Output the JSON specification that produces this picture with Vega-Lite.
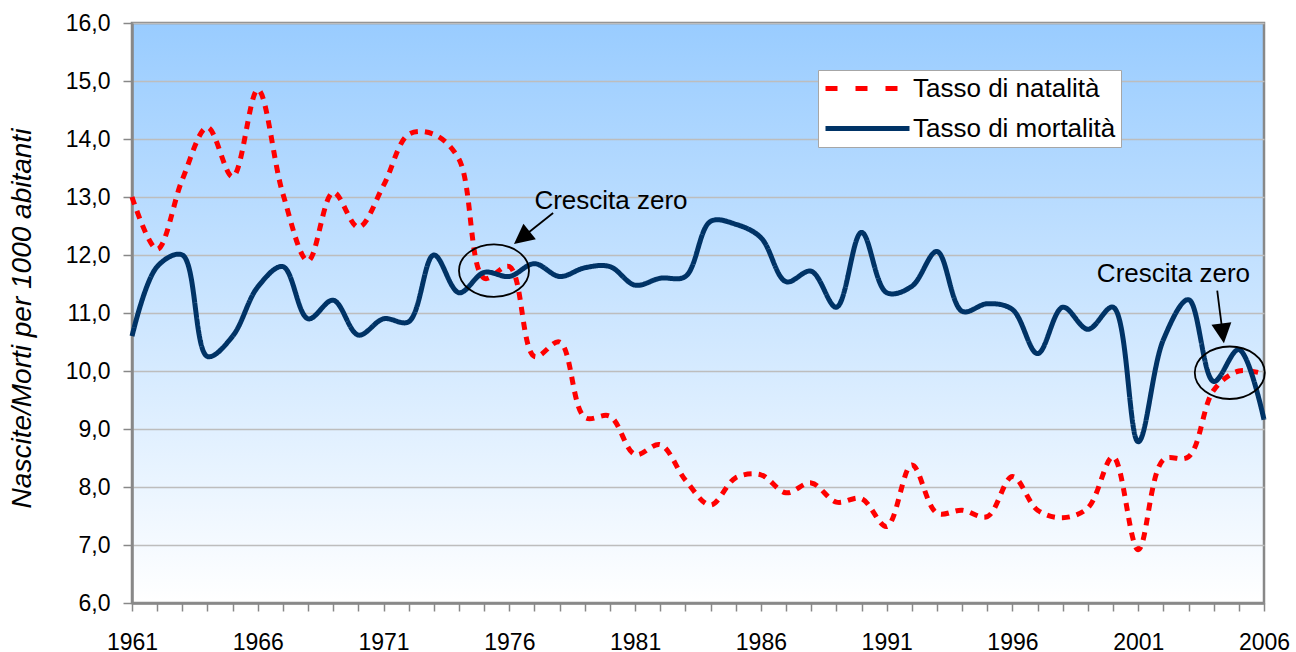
{
  "$schema": "https://vega.github.io/schema/vega-lite/v6.json",
  "autosize": {"type": "none"},
  "padding": {"left": 132, "top": 23, "right": 32, "bottom": 49},
  "width": 1132,
  "height": 580,
  "background": "#ffffff",
  "config": {
    "font": "Liberation Sans",
    "view": {
      "stroke": "#888888",
      "strokeWidth": 2.5,
      "fill": {"gradient": "linear", "x1": 0, "y1": 0, "x2": 0, "y2": 1,
        "stops": [{"offset": 0, "color": "#99ccff"}, {"offset": 1, "color": "#ffffff"}]}
    }
  },
  "datasets": {
    "tassi": [
      {"anno": 1961, "serie": "Tasso di natalità", "valore": 13.0},
      {"anno": 1962, "serie": "Tasso di natalità", "valore": 12.1},
      {"anno": 1963, "serie": "Tasso di natalità", "valore": 13.3},
      {"anno": 1964, "serie": "Tasso di natalità", "valore": 14.2},
      {"anno": 1965, "serie": "Tasso di natalità", "valore": 13.35},
      {"anno": 1966, "serie": "Tasso di natalità", "valore": 14.85},
      {"anno": 1967, "serie": "Tasso di natalità", "valore": 13.05},
      {"anno": 1968, "serie": "Tasso di natalità", "valore": 11.9},
      {"anno": 1969, "serie": "Tasso di natalità", "valore": 13.08},
      {"anno": 1970, "serie": "Tasso di natalità", "valore": 12.48},
      {"anno": 1971, "serie": "Tasso di natalità", "valore": 13.2},
      {"anno": 1972, "serie": "Tasso di natalità", "valore": 14.08},
      {"anno": 1973, "serie": "Tasso di natalità", "valore": 14.08},
      {"anno": 1974, "serie": "Tasso di natalità", "valore": 13.65},
      {"anno": 1975, "serie": "Tasso di natalità", "valore": 11.6},
      {"anno": 1976, "serie": "Tasso di natalità", "valore": 11.8},
      {"anno": 1977, "serie": "Tasso di natalità", "valore": 10.25},
      {"anno": 1978, "serie": "Tasso di natalità", "valore": 10.5},
      {"anno": 1979, "serie": "Tasso di natalità", "valore": 9.2},
      {"anno": 1980, "serie": "Tasso di natalità", "valore": 9.22},
      {"anno": 1981, "serie": "Tasso di natalità", "valore": 8.56},
      {"anno": 1982, "serie": "Tasso di natalità", "valore": 8.73},
      {"anno": 1983, "serie": "Tasso di natalità", "valore": 8.12},
      {"anno": 1984, "serie": "Tasso di natalità", "valore": 7.69},
      {"anno": 1985, "serie": "Tasso di natalità", "valore": 8.16},
      {"anno": 1986, "serie": "Tasso di natalità", "valore": 8.21},
      {"anno": 1987, "serie": "Tasso di natalità", "valore": 7.9},
      {"anno": 1988, "serie": "Tasso di natalità", "valore": 8.07},
      {"anno": 1989, "serie": "Tasso di natalità", "valore": 7.74},
      {"anno": 1990, "serie": "Tasso di natalità", "valore": 7.8},
      {"anno": 1991, "serie": "Tasso di natalità", "valore": 7.32},
      {"anno": 1992, "serie": "Tasso di natalità", "valore": 8.38},
      {"anno": 1993, "serie": "Tasso di natalità", "valore": 7.55},
      {"anno": 1994, "serie": "Tasso di natalità", "valore": 7.6},
      {"anno": 1995, "serie": "Tasso di natalità", "valore": 7.49},
      {"anno": 1996, "serie": "Tasso di natalità", "valore": 8.18},
      {"anno": 1997, "serie": "Tasso di natalità", "valore": 7.6},
      {"anno": 1998, "serie": "Tasso di natalità", "valore": 7.47},
      {"anno": 1999, "serie": "Tasso di natalità", "valore": 7.64},
      {"anno": 2000, "serie": "Tasso di natalità", "valore": 8.52},
      {"anno": 2001, "serie": "Tasso di natalità", "valore": 6.92},
      {"anno": 2002, "serie": "Tasso di natalità", "valore": 8.47},
      {"anno": 2003, "serie": "Tasso di natalità", "valore": 8.52},
      {"anno": 2004, "serie": "Tasso di natalità", "valore": 9.67},
      {"anno": 2005, "serie": "Tasso di natalità", "valore": 10.0},
      {"anno": 2006, "serie": "Tasso di natalità", "valore": 9.95},
      {"anno": 1961, "serie": "Tasso di mortalità", "valore": 10.6},
      {"anno": 1962, "serie": "Tasso di mortalità", "valore": 11.8},
      {"anno": 1963, "serie": "Tasso di mortalità", "valore": 12.0},
      {"anno": 1964, "serie": "Tasso di mortalità", "valore": 10.25},
      {"anno": 1965, "serie": "Tasso di mortalità", "valore": 10.6},
      {"anno": 1966, "serie": "Tasso di mortalità", "valore": 11.45},
      {"anno": 1967, "serie": "Tasso di mortalità", "valore": 11.8},
      {"anno": 1968, "serie": "Tasso di mortalità", "valore": 10.9},
      {"anno": 1969, "serie": "Tasso di mortalità", "valore": 11.22},
      {"anno": 1970, "serie": "Tasso di mortalità", "valore": 10.62},
      {"anno": 1971, "serie": "Tasso di mortalità", "valore": 10.9},
      {"anno": 1972, "serie": "Tasso di mortalità", "valore": 10.85},
      {"anno": 1973, "serie": "Tasso di mortalità", "valore": 12.0},
      {"anno": 1974, "serie": "Tasso di mortalità", "valore": 11.35},
      {"anno": 1975, "serie": "Tasso di mortalità", "valore": 11.7},
      {"anno": 1976, "serie": "Tasso di mortalità", "valore": 11.63},
      {"anno": 1977, "serie": "Tasso di mortalità", "valore": 11.85},
      {"anno": 1978, "serie": "Tasso di mortalità", "valore": 11.63},
      {"anno": 1979, "serie": "Tasso di mortalità", "valore": 11.78},
      {"anno": 1980, "serie": "Tasso di mortalità", "valore": 11.8},
      {"anno": 1981, "serie": "Tasso di mortalità", "valore": 11.48},
      {"anno": 1982, "serie": "Tasso di mortalità", "valore": 11.6},
      {"anno": 1983, "serie": "Tasso di mortalità", "valore": 11.63},
      {"anno": 1984, "serie": "Tasso di mortalità", "valore": 12.58},
      {"anno": 1985, "serie": "Tasso di mortalità", "valore": 12.53},
      {"anno": 1986, "serie": "Tasso di mortalità", "valore": 12.3},
      {"anno": 1987, "serie": "Tasso di mortalità", "valore": 11.54},
      {"anno": 1988, "serie": "Tasso di mortalità", "valore": 11.72},
      {"anno": 1989, "serie": "Tasso di mortalità", "valore": 11.1},
      {"anno": 1990, "serie": "Tasso di mortalità", "valore": 12.39},
      {"anno": 1991, "serie": "Tasso di mortalità", "valore": 11.35},
      {"anno": 1992, "serie": "Tasso di mortalità", "valore": 11.46},
      {"anno": 1993, "serie": "Tasso di mortalità", "valore": 12.06},
      {"anno": 1994, "serie": "Tasso di mortalità", "valore": 11.03},
      {"anno": 1995, "serie": "Tasso di mortalità", "valore": 11.16},
      {"anno": 1996, "serie": "Tasso di mortalità", "valore": 11.06},
      {"anno": 1997, "serie": "Tasso di mortalità", "valore": 10.3},
      {"anno": 1998, "serie": "Tasso di mortalità", "valore": 11.1},
      {"anno": 1999, "serie": "Tasso di mortalità", "valore": 10.72},
      {"anno": 2000, "serie": "Tasso di mortalità", "valore": 11.1},
      {"anno": 2001, "serie": "Tasso di mortalità", "valore": 8.78},
      {"anno": 2002, "serie": "Tasso di mortalità", "valore": 10.54},
      {"anno": 2003, "serie": "Tasso di mortalità", "valore": 11.23},
      {"anno": 2004, "serie": "Tasso di mortalità", "valore": 9.82},
      {"anno": 2005, "serie": "Tasso di mortalità", "valore": 10.37},
      {"anno": 2006, "serie": "Tasso di mortalità", "valore": 9.16}
    ],
    "testi": [
      {"anno": 1980.04, "valore": 12.79, "testo": "Crescita zero"},
      {"anno": 2002.4, "valore": 11.54, "testo": "Crescita zero"}
    ],
    "ellissi": [
      {"anno": 1975.39, "valore": 11.73},
      {"anno": 2004.64, "valore": 9.97}
    ],
    "frecce": [
      {"anno": 1977.74, "valore": 12.724, "anno2": 1976.6, "valore2": 12.333},
      {"anno": 2004.14, "valore": 11.385, "anno2": 2004.34, "valore2": 10.705}
    ],
    "punte": [
      {"anno": 1976.6, "valore": 12.333, "angolo": 231.5},
      {"anno": 2004.34, "valore": 10.705, "angolo": 172.8}
    ]
  },
  "encoding": {
    "x": {
      "field": "anno", "type": "quantitative",
      "scale": {"domain": [1961, 2006], "nice": false, "zero": false},
      "axis": {
        "title": null,
        "values": [1961,1962,1963,1964,1965,1966,1967,1968,1969,1970,1971,1972,1973,1974,1975,1976,1977,1978,1979,1980,1981,1982,1983,1984,1985,1986,1987,1988,1989,1990,1991,1992,1993,1994,1995,1996,1997,1998,1999,2000,2001,2002,2003,2004,2005,2006],
        "labelExpr": "(datum.value - 1961) % 5 == 0 ? '' + datum.value : ''",
        "labelFlush": false,
        "labelOverlap": false,
        "labelFontSize": 23,
        "labelColor": "#000000",
        "labelPadding": 20,
        "labelBaseline": "top",
        "grid": false,
        "tickSize": 8,
        "tickWidth": 1.5,
        "tickColor": "#888888",
        "domainColor": "#888888",
        "domainWidth": 2.5
      }
    },
    "y": {
      "field": "valore", "type": "quantitative",
      "scale": {"domain": [6, 16], "nice": false, "zero": false},
      "axis": {
        "title": "Nascite/Morti per 1000 abitanti",
        "titleFontStyle": "italic",
        "titleFontWeight": "normal",
        "titleFontSize": 28,
        "titleColor": "#000000",
        "titleAngle": -90,
        "titleX": -110,
        "titleY": 295,
        "titleAlign": "center",
        "titleBaseline": "middle",
        "values": [6,7,8,9,10,11,12,13,14,15,16],
        "labelExpr": "replace(format(datum.value, '.1f'), '.', ',')",
        "labelFontSize": 23,
        "labelColor": "#000000",
        "labelPadding": 13,
        "tickSize": 9,
        "tickWidth": 1.5,
        "tickColor": "#888888",
        "domainColor": "#888888",
        "domainWidth": 2.5,
        "grid": true,
        "gridColor": "#bdbdbd",
        "gridWidth": 1.5
      }
    }
  },
  "layer": [
    {
      "data": {"name": "tassi"},
      "mark": {"type": "line", "interpolate": "catmull-rom", "strokeWidth": 5, "strokeCap": "butt"},
      "encoding": {
        "color": {
          "field": "serie", "type": "nominal",
          "scale": {"domain": ["Tasso di natalità", "Tasso di mortalità"], "range": ["#ff0000", "#003366"]},
          "legend": {
            "title": null,
            "orient": "none",
            "legendX": 686,
            "legendY": 47,
            "fillColor": "#ffffff",
            "strokeColor": "#a6a6a6",
            "padding": 5,
            "clipHeight": 27,
            "rowPadding": 13,
            "symbolType": "stroke",
            "symbolSize": 7056,
            "symbolStrokeWidth": 5,
            "labelFontSize": 26,
            "labelColor": "#000000",
            "labelLimit": 400,
            "labelOffset": 1,
            "encode": {
              "symbols": {
                "update": {
                  "strokeDash": {"signal": "datum.value == 'Tasso di natalità' ? [12, 18] : [1, 0]"}
                }
              }
            }
          }
        },
        "strokeDash": {
          "condition": {"test": "datum.serie == 'Tasso di natalità'", "value": [8, 7]},
          "value": [1, 0]
        }
      }
    },
    {
      "data": {"name": "ellissi"},
      "mark": {"type": "point", "shape": "M-1,0A1,0.75,0,1,1,1,0A1,0.75,0,1,1,-1,0Z", "filled": false, "stroke": "#000000", "strokeWidth": 1.8, "size": 4900, "opacity": 1}
    },
    {
      "data": {"name": "frecce"},
      "mark": {"type": "rule", "stroke": "#000000", "strokeWidth": 1.8},
      "encoding": {
        "x2": {"field": "anno2"},
        "y2": {"field": "valore2"}
      }
    },
    {
      "data": {"name": "punte"},
      "mark": {"type": "point", "shape": "M0,-1L0.75,0.5L-0.75,0.5Z", "filled": true, "fill": "#000000", "size": 711, "opacity": 1},
      "encoding": {
        "angle": {"field": "angolo", "type": "quantitative", "scale": null}
      }
    },
    {
      "data": {"name": "testi"},
      "mark": {"type": "text", "fontSize": 26, "align": "center", "baseline": "alphabetic", "color": "#000000"},
      "encoding": {
        "text": {"field": "testo"}
      }
    }
  ]
}
